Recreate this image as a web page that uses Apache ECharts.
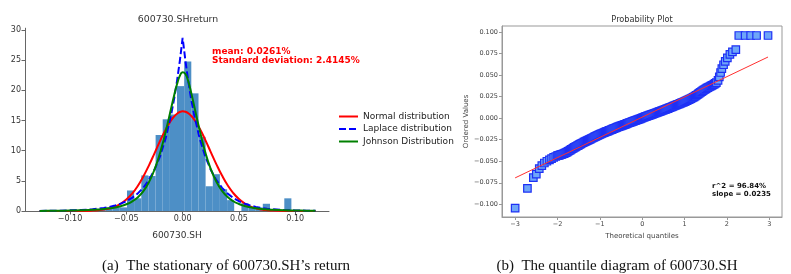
<!DOCTYPE html>
<html><head><meta charset="utf-8">
<script src="https://cdn.jsdelivr.net/npm/echarts@6/dist/echarts.min.js"></script>
<style>html,body{margin:0;padding:0;background:#fff}#c{width:791px;height:274px}</style>
</head><body><div id="c"></div>
<script>
// ---------- left panel: histogram + fitted densities ----------
const histEdges = [-0.1002,-0.0939,-0.0875,-0.0812,-0.0748,-0.0685,-0.0621,-0.0558,-0.0494,-0.0431,-0.0367,-0.0304,-0.0240,-0.0177,-0.0113,-0.0050,0.0014,0.0077,0.0141,0.0204,0.0268,0.0331,0.0395,0.0458,0.0522,0.0585,0.0649,0.0712,0.0776,0.0839,0.0903,0.0966];
const histDensity = [0.3,0,0.3,0,0.3,0.6,0.6,0.6,3.4,2.1,5.9,5.8,12.6,15.2,16.0,20.7,24.8,19.5,12.3,4.1,6.1,3.6,1.8,0,1.3,0.6,0.6,1.2,0,0,2.1];
const curveX = [-0.127,-0.12,-0.11,-0.10,-0.09,-0.08,-0.075,-0.07,-0.065,-0.06,-0.055,-0.05,-0.045,-0.04,-0.035,-0.03,-0.025,-0.02,-0.015,-0.01,-0.0075,-0.005,-0.0025,0,0.0025,0.005,0.0075,0.01,0.015,0.02,0.025,0.03,0.035,0.04,0.045,0.05,0.055,0.06,0.065,0.07,0.075,0.08,0.09,0.10,0.11,0.118];
const normalPdf = [0,0.0001,0.0005,0.003,0.015,0.066,0.128,0.24,0.428,0.733,1.2,1.89,2.85,4.11,5.69,7.53,9.56,11.62,13.53,15.09,15.69,16.13,16.41,16.52,16.45,16.2,15.79,15.23,13.72,11.83,9.77,7.73,5.87,4.26,2.97,1.98,1.26,0.77,0.45,0.26,0.137,0.07,0.016,0.003,0.0005,0.0001];
const laplacePdf = [0.019,0.029,0.051,0.092,0.162,0.29,0.386,0.514,0.685,0.913,1.22,1.62,2.16,2.88,3.84,5.12,6.82,9.1,12.12,16.16,18.65,21.53,24.86,28.7,24.86,21.53,18.65,16.16,12.12,9.1,6.82,5.12,3.84,2.88,2.16,1.62,1.22,0.913,0.685,0.514,0.386,0.29,0.162,0.092,0.051,0.032];
const johnsonPdf = [0.02,0.03,0.045,0.07,0.12,0.19,0.25,0.33,0.44,0.59,0.8,1.12,1.57,2.25,3.25,4.75,6.85,9.65,13.2,17.2,19.2,21.0,22.4,23.0,22.7,21.5,19.7,17.6,13.5,9.8,6.95,4.85,3.35,2.32,1.62,1.16,0.83,0.61,0.45,0.34,0.26,0.2,0.125,0.08,0.052,0.038];
const leftXTicks = [-0.10,-0.05,0.00,0.05,0.10];
const leftYTicks = [0,5,10,15,20,25,30];
const seriesNames = ['Normal distribution','Laplace distribution','Johnson Distribution'];
const leftTitle = '600730.SHreturn';
const leftXLabel = '600730.SH';
const statTexts = ['mean: 0.0261%','Standard deviation: 2.4145%'];

// ---------- right panel: probability plot ----------
const qqTheo = [
 -3.00,-2.71,-2.57,-2.50,-2.43,-2.37,-2.31,-2.25,-2.19,-2.14,-2.09,-2.04,
 -2.000,-1.975,-1.950,-1.925,-1.900,-1.875,-1.850,-1.825,-1.800,-1.775,
 -1.750,-1.725,-1.700,-1.675,-1.650,-1.625,-1.600,-1.575,-1.550,-1.525,
 -1.500,-1.475,-1.450,-1.425,-1.400,-1.375,-1.350,-1.325,-1.300,-1.275,
 -1.250,-1.225,-1.200,-1.175,-1.150,-1.125,-1.100,-1.075,-1.050,-1.025,
 -1.000,-0.975,-0.950,-0.925,-0.900,-0.875,-0.850,-0.825,-0.800,-0.775,
 -0.750,-0.725,-0.700,-0.675,-0.650,-0.625,-0.600,-0.575,-0.550,-0.525,
 -0.500,-0.475,-0.450,-0.425,-0.400,-0.375,-0.350,-0.325,-0.300,-0.275,
 -0.250,-0.225,-0.200,-0.175,-0.150,-0.125,-0.100,-0.075,-0.050,-0.025,
 0.000,0.025,0.050,0.075,0.100,0.125,0.150,0.175,0.200,0.225,
 0.250,0.275,0.300,0.325,0.350,0.375,0.400,0.425,0.450,0.475,
 0.500,0.525,0.550,0.575,0.600,0.625,0.650,0.675,0.700,0.725,
 0.750,0.775,0.800,0.825,0.850,0.875,0.900,0.925,0.950,0.975,
 1.000,1.025,1.050,1.075,1.100,1.125,1.150,1.175,1.200,1.225,
 1.250,1.275,1.300,1.325,1.350,1.375,1.400,1.425,1.450,1.475,
 1.500,1.525,1.550,1.575,1.600,1.625,1.650,1.675,1.700,1.725,1.750,
 1.79,1.82,1.85,1.88,1.92,1.96,2.01,2.07,2.13,2.21,2.28,2.43,2.56,2.70,2.97];
const qqOrdered = [
 -0.1045,-0.0814,-0.0690,-0.0650,-0.0585,-0.0550,-0.0520,-0.0500,-0.0485,-0.0470,-0.0455,-0.0445,
 -0.0435,-0.0432,-0.0428,-0.0424,-0.0420,-0.0416,-0.0412,-0.0406,-0.0400,-0.0393,
 -0.0385,-0.0378,-0.0370,-0.0362,-0.0355,-0.0347,-0.0340,-0.0333,-0.0326,-0.0319,
 -0.0312,-0.0305,-0.0298,-0.0291,-0.0285,-0.0278,-0.0272,-0.0266,-0.0260,-0.0254,
 -0.0248,-0.0242,-0.0236,-0.0230,-0.0224,-0.0218,-0.0212,-0.0206,-0.0200,-0.0194,
 -0.0188,-0.0183,-0.0178,-0.0172,-0.0167,-0.0162,-0.0157,-0.0152,-0.0147,-0.0142,
 -0.0137,-0.0132,-0.0127,-0.0122,-0.0117,-0.0112,-0.0107,-0.0102,-0.0098,-0.0093,
 -0.0089,-0.0084,-0.0080,-0.0075,-0.0071,-0.0066,-0.0061,-0.0056,-0.0052,-0.0047,
 -0.0043,-0.0038,-0.0034,-0.0029,-0.0025,-0.0020,-0.0016,-0.0011,-0.0007,-0.0002,
 0.0003,0.0008,0.0012,0.0017,0.0021,0.0026,0.0030,0.0035,0.0039,0.0044,
 0.0048,0.0053,0.0057,0.0062,0.0066,0.0071,0.0075,0.0080,0.0084,0.0089,
 0.0093,0.0098,0.0102,0.0107,0.0112,0.0117,0.0122,0.0127,0.0132,0.0137,
 0.0142,0.0147,0.0152,0.0157,0.0162,0.0167,0.0172,0.0177,0.0182,0.0187,
 0.0192,0.0198,0.0204,0.0210,0.0216,0.0222,0.0228,0.0234,0.0241,0.0248,
 0.0256,0.0264,0.0272,0.0281,0.0290,0.0299,0.0308,0.0317,0.0325,0.0333,
 0.0340,0.0348,0.0355,0.0362,0.0368,0.0375,0.0381,0.0388,0.0395,0.0403,0.0412,
 0.0440,0.0480,0.0530,0.0575,0.0620,0.0660,0.0700,0.0740,0.0770,0.0795,0.0960,0.0960,0.0960,0.0960,0.0960];
const qqLineX = [-3.00, 2.97];
const qqLineY = [-0.0693, 0.0710];
const rightXTicks = [-3,-2,-1,0,1,2,3];
const rightYTicks = [-0.100,-0.075,-0.050,-0.025,0.000,0.025,0.050,0.075,0.100];
const rightTitle = 'Probability Plot';
const rightXLabel = 'Theoretical quantiles';
const rightYLabel = 'Ordered Values';
const fitTexts = ['r^2 = 96.84%','slope = 0.0235'];

const captions = ['(a)  The stationary of 600730.SH\u2019s return','(b)  The quantile diagram of 600730.SH'];

// ---------- build ----------
const F = 'DejaVu Sans';
const minus = s => s.replace('-', '\u2212');
const chart = echarts.init(document.getElementById('c'), null, {renderer:'canvas'});
const pairs = (xs, ys) => xs.map((x,i)=>[x, ys[i]]);
const histData = histDensity.map((d,i)=>[histEdges[i], histEdges[i+1], d]);

chart.setOption({
  animation:false,
  backgroundColor:'#fff',
  grid:[
    {left:25, top:28.2, width:304, height:182.8},
    {left:502, top:26, width:280, height:191, show:true, borderColor:'#999', borderWidth:1, backgroundColor:'transparent'}
  ],
  xAxis:[
    {type:'value', gridIndex:0, min:-0.14, max:0.13,
     axisLine:{show:true, onZero:false, lineStyle:{color:'#666', width:1}},
     axisTick:{show:true, length:3.5, customValues:leftXTicks, lineStyle:{color:'#666'}},
     axisLabel:{customValues:leftXTicks, fontSize:8, fontFamily:F, color:'#333', margin:4,
       formatter:v=>minus(v.toFixed(2))},
     splitLine:{show:false},
     name:leftXLabel, nameLocation:'middle', nameGap:20, nameTextStyle:{fontSize:9, fontFamily:F, color:'#333'}},
    {type:'value', gridIndex:1, min:-3.31, max:3.30,
     axisLine:{show:true, onZero:false, lineStyle:{color:'#999', width:1}},
     axisTick:{show:true, length:3, customValues:rightXTicks, lineStyle:{color:'#999'}},
     axisLabel:{customValues:rightXTicks, fontSize:6.5, fontFamily:F, color:'#444', margin:4,
       formatter:v=>minus(String(Math.round(v)))},
     splitLine:{show:false},
     name:rightXLabel, nameLocation:'middle', nameGap:15, nameTextStyle:{fontSize:7, fontFamily:F, color:'#444'}}
  ],
  yAxis:[
    {type:'value', gridIndex:0, min:0, max:30.3,
     axisLine:{show:true, onZero:false, lineStyle:{color:'#666', width:1}},
     axisTick:{show:true, length:3.5, customValues:leftYTicks, lineStyle:{color:'#666'}},
     axisLabel:{customValues:leftYTicks, fontSize:8, fontFamily:F, color:'#333', margin:4},
     splitLine:{show:false}},
    {type:'value', gridIndex:1, min:-0.1147, max:0.107,
     axisLine:{show:true, onZero:false, lineStyle:{color:'#999', width:1}},
     axisTick:{show:true, length:3, customValues:rightYTicks, lineStyle:{color:'#999'}},
     axisLabel:{customValues:rightYTicks, fontSize:6.5, fontFamily:F, color:'#444', margin:4,
       formatter:v=>minus(v.toFixed(3))},
     splitLine:{show:false},
     name:rightYLabel, nameLocation:'middle', nameGap:30, nameRotate:90, nameTextStyle:{fontSize:7, fontFamily:F, color:'#444'}}
  ],
  legend:{
    orient:'vertical', left:333, top:107, itemWidth:19, itemHeight:10, itemGap:3.5,
    itemStyle:{opacity:0},
    textStyle:{fontSize:9, fontFamily:F, color:'#222'},
    data:seriesNames
  },
  series:[
    {type:'custom', xAxisIndex:0, yAxisIndex:0, data:histData, encode:{x:[0,1], y:2}, z:1,
     renderItem:(params, api)=>{
       const p0 = api.coord([api.value(0), api.value(2)]);
       const p1 = api.coord([api.value(1), 0]);
       return {type:'rect', shape:{x:p0[0], y:p0[1], width:p1[0]-p0[0], height:p1[1]-p0[1]}, style:{fill:'#4d8fc6'}};
     }},
    {name:seriesNames[0], type:'line', xAxisIndex:0, yAxisIndex:0, data:pairs(curveX, normalPdf), smooth:true, symbol:'none', z:3,
     lineStyle:{color:'#ff0000', width:2}, itemStyle:{color:'#ff0000'}},
    {name:seriesNames[1], type:'line', xAxisIndex:0, yAxisIndex:0, data:pairs(curveX, laplacePdf), smooth:false, symbol:'none', z:4,
     lineStyle:{color:'#0000ff', width:2, type:[7,3]}, itemStyle:{color:'#0000ff'}},
    {name:seriesNames[2], type:'line', xAxisIndex:0, yAxisIndex:0, data:pairs(curveX, johnsonPdf), smooth:true, symbol:'none', z:5,
     lineStyle:{color:'#008000', width:2}, itemStyle:{color:'#008000'}},
    {type:'scatter', xAxisIndex:1, yAxisIndex:1, data:pairs(qqTheo, qqOrdered), symbol:'rect', symbolSize:7.5, z:2,
     itemStyle:{color:'#6ea6f8', borderColor:'#1e30f5', borderWidth:1.2, opacity:1}},
    {type:'line', xAxisIndex:1, yAxisIndex:1, data:pairs(qqLineX, qqLineY), symbol:'none', z:6,
     lineStyle:{color:'#ff3030', width:1}}
  ],
  graphic:[
    {type:'text', x:178, y:20, style:{text:leftTitle, font:'9.4px "DejaVu Sans"', fill:'#333', align:'center', verticalAlign:'middle'}},
    {type:'text', x:642, y:20, style:{text:rightTitle, font:'8.2px "DejaVu Sans"', fill:'#333', align:'center', verticalAlign:'middle'}},
    {type:'text', x:212, y:52, style:{text:statTexts[0], font:'bold 9px "DejaVu Sans"', fill:'#ff0000', align:'left', verticalAlign:'middle'}},
    {type:'text', x:212, y:61, style:{text:statTexts[1], font:'bold 9px "DejaVu Sans"', fill:'#ff0000', align:'left', verticalAlign:'middle'}},
    {type:'text', x:712, y:186, style:{text:fitTexts[0], font:'bold 7px "DejaVu Sans"', fill:'#111', align:'left', verticalAlign:'middle'}},
    {type:'text', x:712, y:194.5, style:{text:fitTexts[1], font:'bold 7px "DejaVu Sans"', fill:'#111', align:'left', verticalAlign:'middle'}},
    {type:'text', x:226, y:266, style:{text:captions[0], font:'15px "Liberation Serif"', fill:'#111', align:'center', verticalAlign:'middle'}},
    {type:'text', x:617, y:266, style:{text:captions[1], font:'15px "Liberation Serif"', fill:'#111', align:'center', verticalAlign:'middle'}}
  ]
});
</script></body></html>
